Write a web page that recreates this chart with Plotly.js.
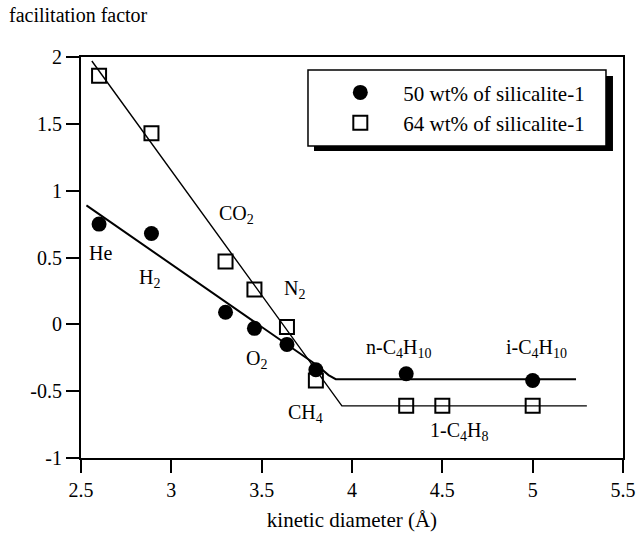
<!DOCTYPE html>
<html>
<head>
<meta charset="utf-8">
<script src="https://cdn.plot.ly/plotly-3.0.1.min.js"></script>
<style>
  html, body { margin: 0; padding: 0; background: #fff; }
  #chart { width: 636px; height: 540px; }
</style>
</head>
<body>
<div id="chart"></div>
<script>
// Kinetic diameters (Å) of the permeating gases
const gases = ["He", "H2", "CO2", "O2", "N2", "CH4", "n-C4H10", "i-C4H10"];
const diam50 = [2.6, 2.89, 3.3, 3.46, 3.64, 3.8, 4.3, 5.0];
// Facilitation factor, membrane with 50 wt% silicalite-1
const fac50 = [0.75, 0.68, 0.09, -0.03, -0.15, -0.34, -0.37, -0.42];

const diam64 = [2.6, 2.89, 3.3, 3.46, 3.64, 3.8, 4.3, 4.5, 5.0];
// Facilitation factor, membrane with 64 wt% silicalite-1
const fac64 = [1.86, 1.43, 0.47, 0.26, -0.02, -0.42, -0.61, -0.61, -0.61];

// Trend lines drawn through each series
const trend50X = [2.53, 3.81, 3.87, 3.91, 5.24];
const trend50Y = [0.89, -0.31, -0.38, -0.41, -0.41];
const trend64X = [2.56, 3.944, 5.30];
const trend64Y = [1.97, -0.61, -0.61];

// Gas labels placed next to the points
const labelText = ["He", "H<sub>2</sub>", "CO<sub>2</sub>", "N<sub>2</sub>", "O<sub>2</sub>",
                   "CH<sub>4</sub>", "n-C<sub>4</sub>H<sub>10</sub>", "i-C<sub>4</sub>H<sub>10</sub>",
                   "1-C<sub>4</sub>H<sub>8</sub>"];
const labelX = [2.61, 2.88, 3.36, 3.68, 3.47, 3.74, 4.26, 5.02, 4.59];
const labelY = [0.53, 0.34, 0.82, 0.26, -0.26, -0.67, -0.18, -0.18, -0.80];

const xTicks = [2.5, 3, 3.5, 4, 4.5, 5, 5.5];
const yTicks = [-1, -0.5, 0, 0.5, 1, 1.5, 2];

const serif = "Liberation Serif, Times New Roman, serif";

const traces = [
  { x: trend50X, y: trend50Y, mode: "lines", line: { color: "#000", width: 2 },
    showlegend: false, hoverinfo: "skip" },
  { x: trend64X, y: trend64Y, mode: "lines", line: { color: "#000", width: 1.4 },
    showlegend: false, hoverinfo: "skip" },
  { x: diam50, y: fac50, mode: "markers", name: "50 wt% of silicalite-1",
    marker: { symbol: "circle", size: 15, color: "#000" } },
  { x: diam64, y: fac64, mode: "markers", name: "64 wt% of silicalite-1",
    marker: { symbol: "square-open", size: 14, color: "#000", line: { width: 2, color: "#000" } } }
];

const annotations = labelText.map((t, i) => ({
  x: labelX[i], y: labelY[i], xref: "x", yref: "y", text: t, showarrow: false,
  font: { family: serif, size: 20, color: "#000" }
}));
annotations.push({
  x: -0.1365, y: 1.105, xref: "paper", yref: "paper", xanchor: "left", yanchor: "middle",
  text: "facilitation factor", showarrow: false,
  font: { family: serif, size: 20, color: "#000" }
});

const layout = {
  width: 636, height: 540,
  margin: { l: 81, r: 13, t: 57, b: 82 },
  paper_bgcolor: "#fff", plot_bgcolor: "#fff",
  showlegend: true,
  legend: {
    x: 0.436, y: 0.962, xanchor: "left", yanchor: "top",
    bgcolor: "rgba(0,0,0,0)", borderwidth: 0, itemwidth: 76,
    font: { family: serif, size: 21, color: "#000" }
  },
  xaxis: {
    range: [2.5, 5.5], tickvals: xTicks, ticktext: xTicks.map(String),
    ticks: "outside", ticklen: 13, tickwidth: 2, tickcolor: "#000",
    showline: true, linewidth: 2, linecolor: "#000", mirror: true,
    showgrid: false, zeroline: false,
    tickfont: { family: serif, size: 20, color: "#000" },
    title: { text: "kinetic diameter (Å)", font: { family: serif, size: 21, color: "#000" }, standoff: 12 }
  },
  yaxis: {
    range: [-1, 2], tickvals: yTicks, ticktext: yTicks.map(String),
    ticks: "outside", ticklen: 13, tickwidth: 2, tickcolor: "#000",
    showline: true, linewidth: 2, linecolor: "#000", mirror: true,
    showgrid: false, zeroline: false,
    tickfont: { family: serif, size: 20, color: "#000" }
  },
  shapes: [
    // legend frame with drop shadow
    { type: "rect", xref: "paper", yref: "paper", x0: 0.4299, x1: 0.9815, y0: 0.7656, y1: 0.9526,
      fillcolor: "#000", line: { width: 0 }, layer: "above" },
    { type: "rect", xref: "paper", yref: "paper", x0: 0.4188, x1: 0.9686, y0: 0.778, y1: 0.9676,
      fillcolor: "#fff", line: { color: "#000", width: 1.5 }, layer: "above" }
  ],
  annotations: annotations
};

Plotly.newPlot("chart", traces, layout, { staticPlot: true, displayModeBar: false });
</script>
</body>
</html>
